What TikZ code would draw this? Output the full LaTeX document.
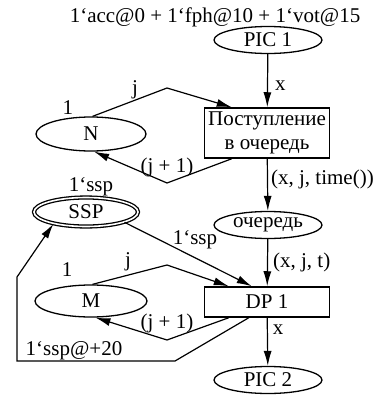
\documentclass[tikz,border=0pt]{standalone}
\usepackage{fontspec}
\setmainfont{Liberation Serif}
\usetikzlibrary{arrows.meta,shapes.geometric}

\begin{document}
\begin{tikzpicture}[
        x=1pt,y=-1pt,
        font=\fontsize{21}{24}\selectfont,
        % places, transitions and arcs of the net
        place/.style={ellipse, draw, line width=1.3pt, inner sep=0pt,
            minimum width=108pt, minimum height=27pt},
        trans/.style={rectangle, draw, line width=1.5pt, inner sep=1pt,
            minimum width=125pt, align=center},
        netarc/.style={-{Latex[length=15pt,width=8pt]}, line width=1.2pt},
        lbl/.style={inner sep=1pt},
    ]
  \useasboundingbox (0,0) rectangle (387,397);
  \node (init) at (215,17) {1`acc@0 + 1`fph@10 + 1`vot@15};
  \node[place] (pic1) at (268,40) {PIC 1};
  \node[trans, minimum height=50pt] (arrive) at (267,133) {Поступление\\в очередь};
  \node[place, minimum width=110pt, minimum height=34pt] (n) at (91,134) {N};
  \node[place] (queue) at (268,225) {очередь};
  \node[place, double, double distance=1.6pt, minimum width=104pt,
    minimum height=29pt] (ssp) at (86,212) {SSP};
  \node[trans, minimum height=30pt] (dp1) at (267,302) {DP 1};
  \node[place, minimum width=112pt, minimum height=32pt] (m) at (91,301) {M};
  \node[place] (pic2) at (268,380) {PIC 2};
  % markings
  \node[lbl] (nmark) at (68,108) {1};
  \node[lbl] (mmark) at (67,270) {1};
  \node[lbl] (sspmark) at (91,187) {1`ssp};
  % arcs
  \draw[netarc] (pic1) -- (arrive) node[lbl, pos=0.6, right=6pt] (x1) {x};
  \draw[netarc] (n.85) -- (167,88) -- ([xshift=28pt]arrive.north west);
  \node[lbl] (nj) at (135,90) {j};
  \draw[netarc] ([xshift=28pt]arrive.south west) -- (167,183) -- (n.-80);
  \node[lbl] (nj1) at (167,167) {(j + 1)};
  \draw[netarc] (arrive) -- (queue) node[lbl, pos=0.4, right=2pt] (xjt1) {(x, j, time())};
  \draw[netarc] (queue) -- (dp1) node[lbl, pos=0.5, right=4pt] (xjt2) {(x, j, t)};
  \draw[netarc] (ssp.-15) -- ([xshift=48pt]dp1.north west);
  \node[lbl] (sspin) at (195,240) {1`ssp};
  \draw[netarc] (m.85) -- (167,265) -- ([xshift=25pt]dp1.north west);
  \node[lbl] (mj) at (128,262) {j};
  \draw[netarc] ([xshift=25pt]dp1.south west) -- (167,340) -- (m.-75);
  \node[lbl] (mj1) at (167,323) {(j + 1)};
  \draw[netarc] ([xshift=45pt]dp1.south west) -- (175,361) -- (17,361)
    -- (17,277) -- (ssp.-160);
  \node[lbl] (sspout) at (74,351) {1`ssp@+20};
  \draw[netarc] (dp1) -- (pic2) node[lbl, pos=0.25, right=4pt] (x2) {x};
\end{tikzpicture}
\end{document}
